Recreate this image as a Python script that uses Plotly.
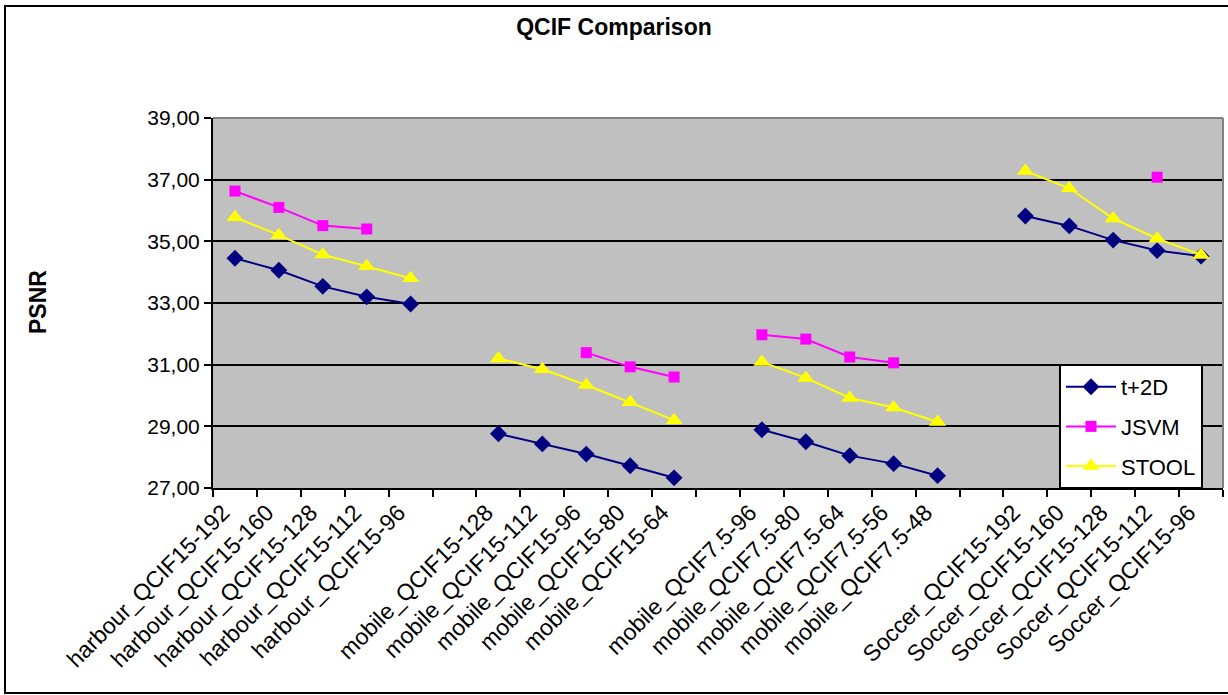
import plotly.graph_objects as go

# Category axis: four sequence groups separated by empty slots
categories = [
    "harbour_QCIF15-192", "harbour_QCIF15-160", "harbour_QCIF15-128",
    "harbour_QCIF15-112", "harbour_QCIF15-96", " ",
    "mobile_QCIF15-128", "mobile_QCIF15-112", "mobile_QCIF15-96",
    "mobile_QCIF15-80", "mobile_QCIF15-64", "  ",
    "mobile_QCIF7.5-96", "mobile_QCIF7.5-80", "mobile_QCIF7.5-64",
    "mobile_QCIF7.5-56", "mobile_QCIF7.5-48", "   ",
    "Soccer_QCIF15-192", "Soccer_QCIF15-160", "Soccer_QCIF15-128",
    "Soccer_QCIF15-112", "Soccer_QCIF15-96",
]

# PSNR values (None = no measurement, line breaks there)
t2d = [34.45, 34.06, 33.54, 33.20, 32.97, None,
       28.76, 28.43, 28.10, 27.72, 27.33, None,
       28.89, 28.50, 28.05, 27.79, 27.40, None,
       35.82, 35.50, 35.04, 34.70, 34.52]
jsvm = [36.63, 36.10, 35.51, 35.40, None, None,
        None, None, 31.39, 30.93, 30.60, None,
        31.97, 31.83, 31.25, 31.06, None, None,
        None, None, None, 37.08, None]
stool = [35.78, 35.20, 34.57, 34.19, 33.80, None,
         31.20, 30.85, 30.34, 29.78, 29.20, None,
         31.09, 30.57, 29.92, 29.61, 29.14, None,
         37.28, 36.72, 35.74, 35.09, 34.56]

FONT = "Arial, Liberation Sans, sans-serif"

series = [
    ("t+2D", t2d, "#000080", "diamond", 13),
    ("JSVM", jsvm, "#FF00FF", "square", 11),
    ("STOOL", stool, "#FFFF00", "triangle-up", 15),
]

fig = go.Figure()
for i, (name, vals, color, symbol, size) in enumerate(series):
    fig.add_trace(go.Scatter(
        x=categories, y=vals, name=name, mode="lines+markers",
        connectgaps=False, legendgroup=f"g{i}",
        line=dict(color=color, width=2),
        marker=dict(color=color, symbol=symbol, size=size, line=dict(width=0)),
    ))

# Plot-area geometry in pixels
L, R, T, B = 213, 1223, 118, 488
W, H = 1228, 695
pw, ph = R - L, B - T


def px_x(x):
    return (x - L) / pw


def px_y(y):
    return (B - y) / ph


shapes = [
    # outer chart frame
    dict(type="rect", xref="paper", yref="paper",
         x0=px_x(5), x1=px_x(1236), y0=px_y(693), y1=px_y(6),
         line=dict(color="black", width=2), layer="below"),
    # plot-area border on top and right
    dict(type="line", xref="paper", yref="paper", x0=0, x1=1, y0=1, y1=1,
         line=dict(color="#808080", width=2)),
    dict(type="line", xref="paper", yref="paper", x0=1, x1=1, y0=0, y1=1,
         line=dict(color="#808080", width=2)),
]

fig.update_layout(
    width=W, height=H,
    margin=dict(l=L, r=W - R, t=T, b=H - B),
    paper_bgcolor="white",
    plot_bgcolor="#C0C0C0",
    separators=",.",
    font=dict(family=FONT, color="black", size=21),
    title=dict(text="<b>QCIF Comparison</b>", x=0.5, xanchor="center",
               y=1 - 27 / H, yanchor="middle",
               font=dict(family=FONT, size=23, color="black")),
    xaxis=dict(
        type="category", categoryorder="array", categoryarray=categories,
        range=[-0.5, len(categories) - 0.5], autorange=False,
        tickson="boundaries", ticks="outside", ticklen=7, tickwidth=2,
        tickcolor="black", tickangle=-45, showgrid=False,
        ticklabelshift=-12,
        showline=True, linecolor="black", linewidth=2,
        tickfont=dict(family=FONT, size=23, color="black"),
    ),
    yaxis=dict(
        range=[27, 39], dtick=2, tick0=27, tickformat=".2f",
        ticks="outside", ticklen=7, tickwidth=2, tickcolor="black",
        showgrid=True, gridcolor="black", gridwidth=2,
        showline=True, linecolor="black", linewidth=2, zeroline=False,
        tickfont=dict(family=FONT, size=21, color="black"),
    ),
    legend=dict(
        x=px_x(1059), y=px_y(364), xanchor="left", yanchor="top",
        bgcolor="white", bordercolor="black", borderwidth=2,
        font=dict(family=FONT, size=22, color="black"),
        traceorder="grouped", tracegroupgap=8, itemwidth=50,
    ),
    shapes=shapes,
    annotations=[dict(
        text="<b>PSNR</b>", xref="paper", yref="paper",
        x=px_x(38), y=px_y(302), xanchor="center", yanchor="middle",
        textangle=-90, showarrow=False,
        font=dict(family=FONT, size=23, color="black"),
    )],
)

fig.write_html("out.html")
